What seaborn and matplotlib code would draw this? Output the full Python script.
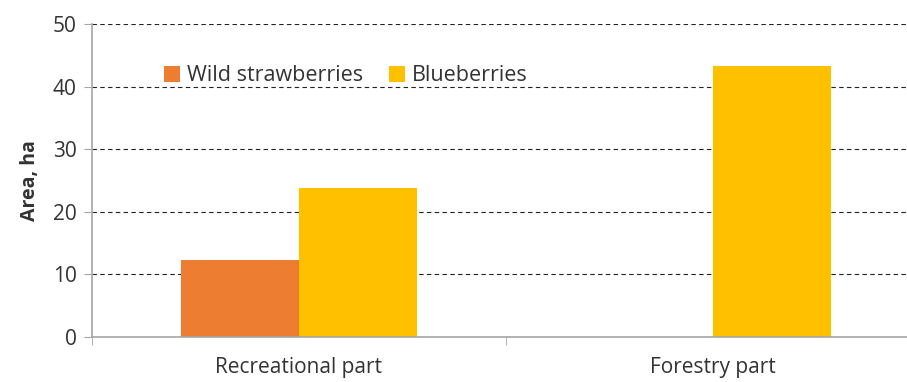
import matplotlib.pyplot as plt
import seaborn as sns
import pandas as pd
from matplotlib.ticker import FixedLocator

categories = ["Recreational part", "Forestry part"]
series = ["Wild strawberries", "Blueberries"]
strawberries = [12.2, 0.0]
blueberries = [23.7, 43.3]
colors = ["#ED7D31", "#FFC000"]

df = pd.DataFrame({
    "part": categories * 2,
    "berry": [series[0]] * 2 + [series[1]] * 2,
    "area": strawberries + blueberries,
})

sns.set_style("white")
plt.rcParams['font.family'] = ['Open Sans', 'DejaVu Sans']
text_color = "#333333"

fig = plt.figure(figsize=(9.07, 3.82), dpi=100)
ax = fig.add_axes([0.1014, 0.119, 0.913, 0.818])

sns.barplot(data=df, x="part", y="area", hue="berry", order=categories,
            hue_order=series, palette=colors, width=0.57, saturation=1,
            edgecolor="none", ax=ax)

ax.set_ylim(0, 50)
ax.set_xlim(-0.5, 1.5)
ax.set_yticks([0, 10, 20, 30, 40, 50])
ax.yaxis.grid(True, color="#222222", linestyle=(0, (4, 3)), linewidth=0.8)
ax.set_axisbelow(True)

for s in ["top", "right"]:
    ax.spines[s].set_visible(False)
for s in ["left", "bottom"]:
    ax.spines[s].set_color("#A6A6A6")
    ax.spines[s].set_linewidth(1.2)

ax.tick_params(axis="y", length=6, color="#A6A6A6", labelsize=15,
               labelcolor=text_color, pad=5, left=True)
ax.tick_params(axis="x", which="major", length=0, labelsize=15,
               labelcolor=text_color, pad=15)
ax.xaxis.set_minor_locator(FixedLocator([-0.5, 0.5, 1.5]))
ax.tick_params(axis="x", which="minor", length=6, color="#A6A6A6", bottom=True)

ax.set_xlabel("")
ax.set_ylabel("Area, ha", fontsize=14, fontweight="bold", color=text_color, labelpad=9)

handles, labels = ax.get_legend_handles_labels()
ax.legend(handles, labels, loc="upper left", bbox_to_anchor=(0.064, 0.93),
          ncol=2, frameon=False, fontsize=15.5, handlelength=0.75,
          handleheight=0.75, handletextpad=0.3, columnspacing=1.2,
          labelcolor=text_color)

plt.savefig("out.png", dpi=100)
plt.close()
